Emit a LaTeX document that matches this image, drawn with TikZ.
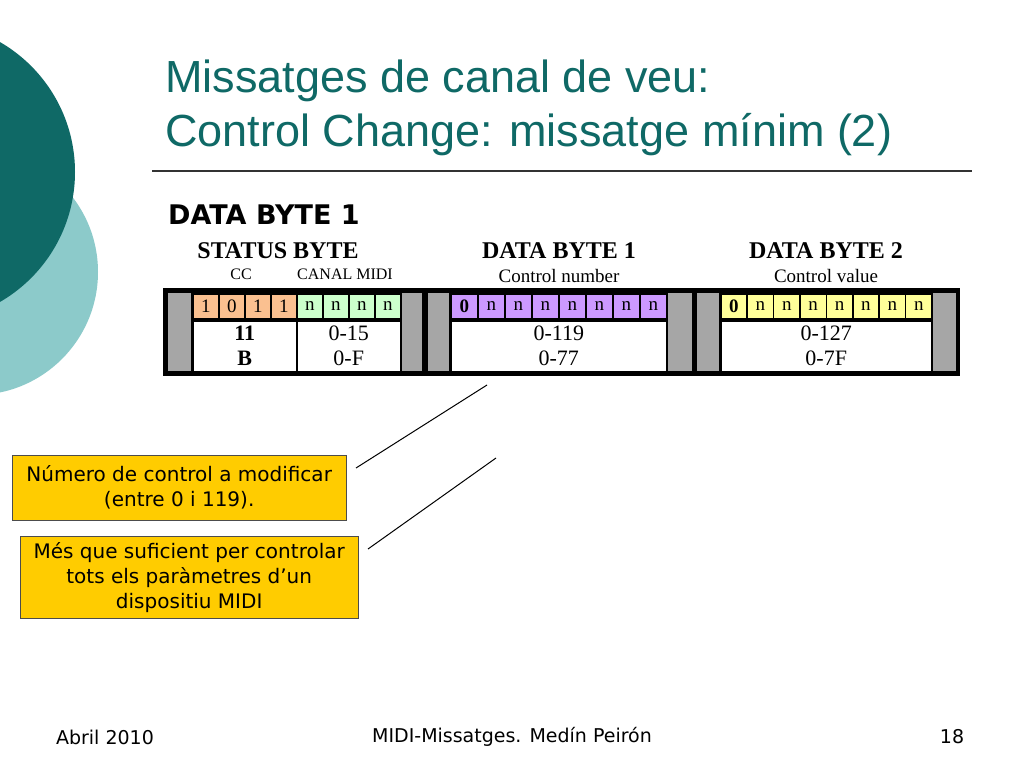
\documentclass[tikz,border=0pt]{standalone}
\usepackage{fontspec}
\setmainfont{Liberation Sans}
\newfontfamily\verd{DejaVu Sans}
\newfontfamily\ser{Liberation Serif}
\definecolor{teal1}{HTML}{0F6966}
\definecolor{teal2}{HTML}{8CCACA}
\definecolor{org}{HTML}{FAC090}
\definecolor{grn}{HTML}{CCFFCC}
\definecolor{pur}{HTML}{CC99FF}
\definecolor{yel}{HTML}{FFFF99}
\definecolor{gry}{HTML}{A6A6A6}
\definecolor{gold}{HTML}{FFCC00}
\begin{document}
\begin{tikzpicture}[x=1pt,y=-1pt,
  cell/.style={draw=black,line width=1.5pt,font=\ser\fontsize{19}{19}\selectfont,inner sep=0},
  hdr/.style={font=\ser\bfseries\fontsize{24}{24}\selectfont},
  sub/.style={font=\ser\fontsize{19}{19}\selectfont},
  callout/.style={draw=black!70,fill=gold,align=center,font=\verd\fontsize{20}{25}\selectfont,inner sep=0},
  foot/.style={font=\verd\fontsize{19}{19}\selectfont}]
\useasboundingbox (0,0) rectangle (1024,768);
\fill[white] (0,0) rectangle (1024,768);
\fill[teal2] (-25,272) circle (123);
\fill[teal1] (-75,172) circle (150);
\node[anchor=base west,text=teal1,font=\fontsize{45}{45}\selectfont,inner sep=0] (t1) at (165,92) {Missatges de canal de veu:};
\node[anchor=base west,text=teal1,font=\fontsize{45}{45}\selectfont,inner sep=0] (t2) at (165,146) {Control Change: missatge mínim (2)};
\draw[line width=1.2pt,black!80] (152,171) -- (972,171);
\node[anchor=base west,font=\verd\bfseries\fontsize{27}{27}\selectfont,inner sep=0] (db) at (168,224) {DATA BYTE 1};
% headers
\node[hdr] (h1) at (278,251) {STATUS BYTE};
\node[sub,font=\ser\fontsize{16}{16}\selectfont] (h1a) at (241,274) {CC};
\node[sub,font=\ser\fontsize{16}{16}\selectfont] (h1b) at (345,274) {CANAL MIDI};
\node[hdr] (h2) at (559,251) {DATA BYTE 1};
\node[sub] (h2a) at (559,276) {Control number};
\node[hdr] (h3) at (826,251) {DATA BYTE 2};
\node[sub] (h3a) at (826,276) {Control value};
% table
\fill[black] (163,288) rectangle (960,376);
\foreach \a/\b in {168/191,399/422,428/449,667/692,697/719,931/956}{
  \fill[gry] (\a,293) rectangle (\b,371);}
% status
\foreach \i/\t in {0/1,1/0,2/1,3/1}{
  \node[cell,fill=org,minimum width=26,minimum height=25,anchor=north west] (s\i) at (192+26*\i,293) {\t};}
\foreach \i in {4,5,6,7}{
  \node[cell,fill=grn,minimum width=26,minimum height=25,anchor=north west] (s\i) at (192+26*\i,293) {n};}
\node[cell,fill=white,minimum width=104,minimum height=51,anchor=north west,align=center,font=\ser\bfseries\fontsize{22}{25}\selectfont] (sb1) at (192,320) {11\\B};
\node[cell,fill=white,minimum width=104,minimum height=51,anchor=north west,align=center,font=\ser\fontsize{22}{25}\selectfont] (sb2) at (296,320) {0-15\\0-F};
% data 1
\node[cell,fill=pur,minimum width=27,minimum height=25,anchor=north west,font=\ser\bfseries\fontsize{19}{19}\selectfont] (p0) at (450,293) {0};
\foreach \i in {1,...,7}{
  \node[cell,fill=pur,minimum width=27,minimum height=25,anchor=north west] (p\i) at (450+27*\i,293) {n};}
\node[cell,fill=white,minimum width=216,minimum height=51,anchor=north west,align=center,font=\ser\fontsize{22}{25}\selectfont] (pb) at (450,320) {0-119\\0-77};
% data 2
\node[cell,fill=yel,minimum width=26.4,minimum height=25,anchor=north west,font=\ser\bfseries\fontsize{19}{19}\selectfont] (y0) at (720,293) {0};
\foreach \i in {1,...,7}{
  \node[cell,fill=yel,minimum width=26.4,minimum height=25,anchor=north west] (y\i) at (720+26.4*\i,293) {n};}
\node[cell,fill=white,minimum width=211,minimum height=51,anchor=north west,align=center,font=\ser\fontsize{22}{25}\selectfont] (yb) at (720,320) {0-127\\0-7F};
% callouts
\node[callout,minimum width=334,minimum height=65,anchor=north west] (c1) at (12,455) {Número de control a modificar\\(entre 0 i 119).};
\node[callout,minimum width=338,minimum height=82,anchor=north west] (c2) at (20,536) {Més que suficient per controlar\\tots els paràmetres d’un\\dispositiu MIDI};
\coordinate (e1) at (487,385);
\coordinate (e2) at (496,458);
\draw[line width=1pt] (356,468) -- (e1);
\draw[line width=1pt] (368,549) -- (e2);
% footer
\node[foot] (f1) at (105,737) {Abril 2010};
\node[foot] (f2) at (512,737) {MIDI-Missatges. Medín Peirón};
\node[foot] (f3) at (952,737) {18};
\end{tikzpicture}
\end{document}
